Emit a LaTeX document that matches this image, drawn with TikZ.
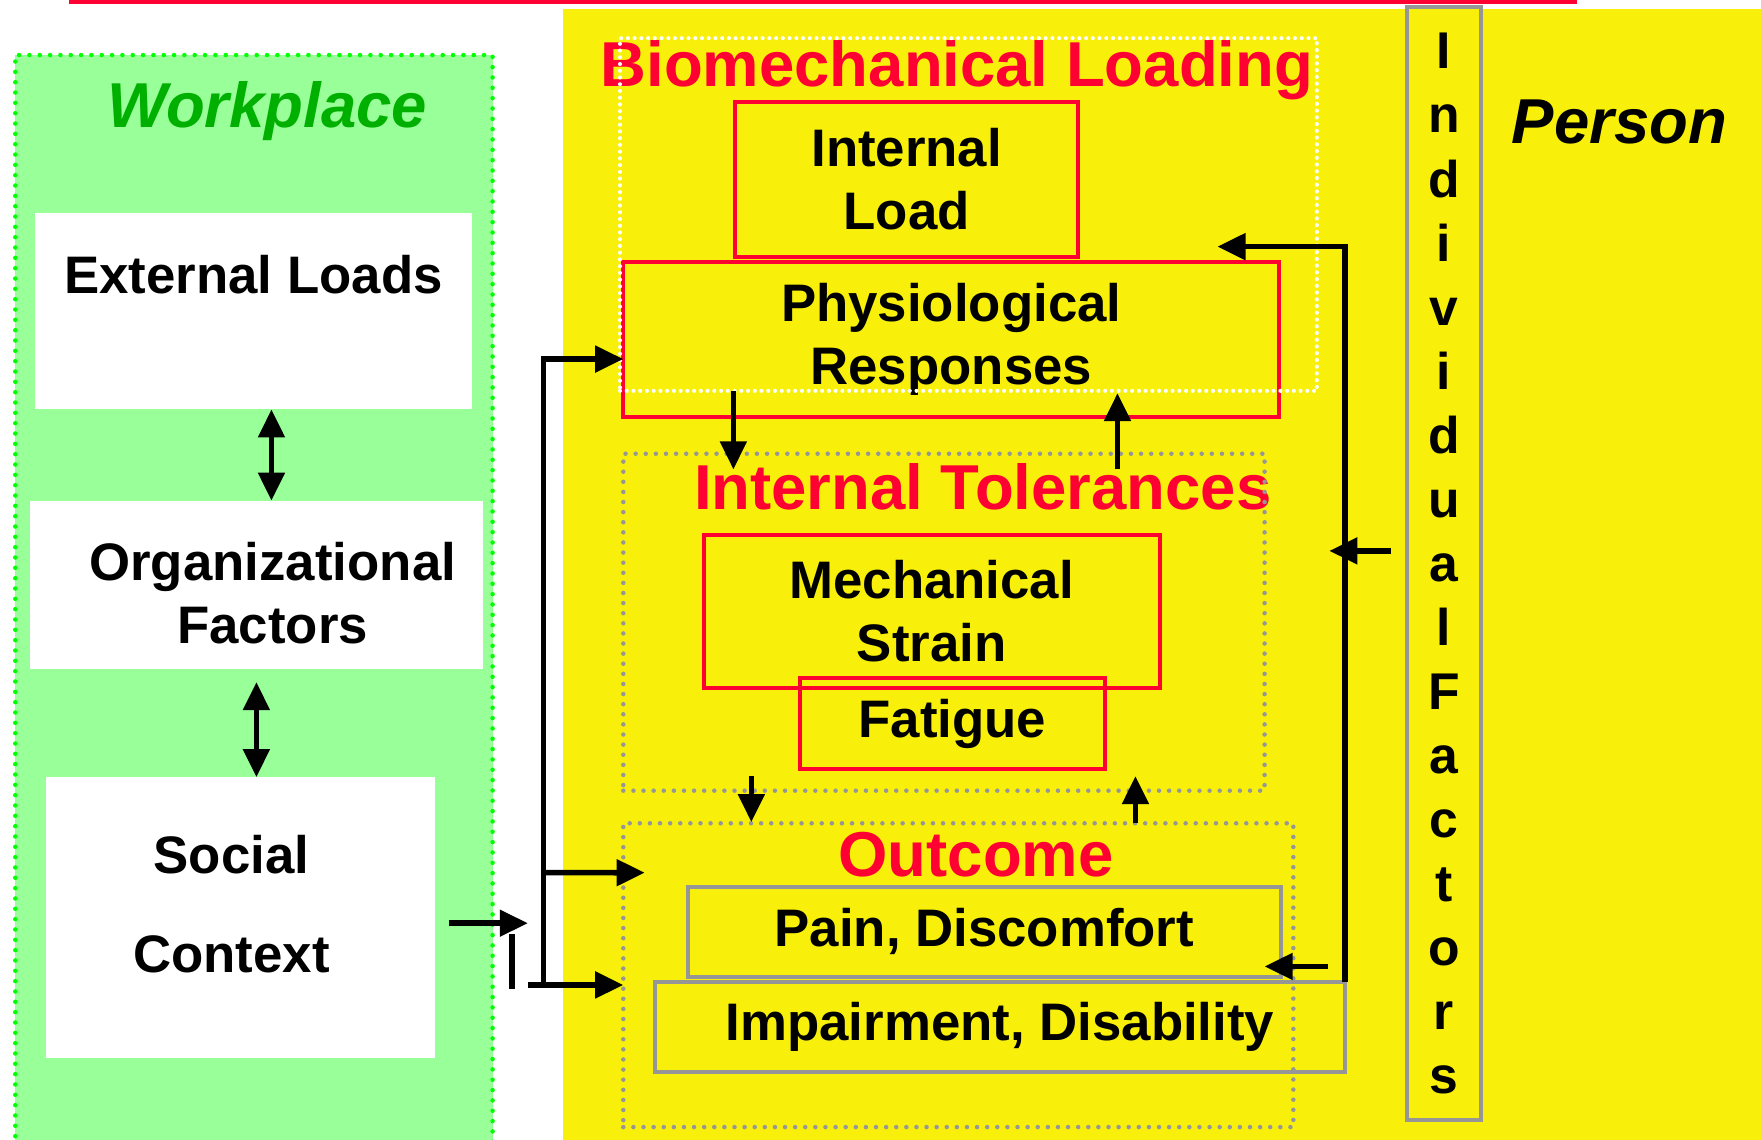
\documentclass[tikz,border=0pt]{standalone}
\usepackage{fontspec}
\setmainfont{Liberation Sans}
\usetikzlibrary{arrows.meta,calc}

\definecolor{bred}{RGB}{255,0,51}
\definecolor{byel}{RGB}{248,240,10}
\definecolor{bgrn}{RGB}{153,255,153}
\definecolor{dgrn}{RGB}{0,255,0}
\definecolor{wgrn}{RGB}{0,176,0}
\definecolor{bgray}{RGB}{150,150,150}

\newcommand{\boxfont}{\fontsize{47}{56}\selectfont\bfseries}
\newcommand{\ttlfont}{\fontsize{56.5}{66}\selectfont\bfseries}
\newcommand{\letfont}{\fontsize{46}{57}\selectfont\bfseries}

\begin{document}
\begin{tikzpicture}[x=1pt,y=-1pt]
	\tikzstyle{wbox}=[rectangle, fill=white, inner sep=0pt, outer sep=0pt, font=\boxfont]
	\tikzstyle{wtxt}=[inner sep=0pt, align=center, font=\boxfont]
	\tikzstyle{rbox}=[rectangle, draw=bred, line width=3.5pt, inner sep=0pt, outer sep=0pt, align=center, font=\boxfont]
	\tikzstyle{gbox}=[rectangle, draw=bgray, line width=3.5pt, inner sep=0pt, outer sep=0pt, align=center, font=\boxfont]
	\tikzstyle{grp}=[rectangle, line width=4pt, line cap=round, dash pattern=on 0pt off 9pt, inner sep=0pt, outer sep=0pt]
	\tikzstyle{ttl}=[anchor=base, inner sep=0pt, font=\ttlfont, text=bred]
	\tikzstyle{arr}=[line width=5pt, -{Triangle[length=25pt,width=23pt]}]
	\tikzstyle{dbl}=[line width=5pt, {Triangle[length=25pt,width=23pt]}-{Triangle[length=25pt,width=23pt]}]

	\useasboundingbox (0,0) rectangle (1568,1015);

	% backgrounds
	\fill[byel] (501,8.3) rectangle (1568,1015);
	\fill[bgrn] (13.6,49) rectangle (438.6,1030);
	\draw[dgrn, line width=4pt, line cap=round, dash pattern=on 0pt off 9.2pt]
		(13.6,1030) -- (13.6,49) -- (438.6,49) -- (438.6,1030);
	\draw[bred, line width=3.2pt] (61.3,1.6) -- (1404,1.6);

	% workplace
	\node[ttl, text=wgrn, font=\ttlfont\itshape] (wp) at (238,113.4) {Workplace};
	\node[wbox, minimum width=389pt, minimum height=175pt, text depth=66pt] (ext) at (225.7,277) {External Loads};
	\node[wbox, minimum width=403pt, minimum height=150pt] (org) at (228.3,520.8) {};
	\node[wtxt] (orgt) at ($(org)+(14.5,7)$) {Organizational\\Factors};
	\node[wbox, minimum width=346pt, minimum height=250pt] (soc) at (214,817) {};
	\node[wtxt] (soct) at ($(soc)+(-8,-12)$) {Social\\[31.5pt]Context};

	% person
	\node[ttl] (bio) at (852,76.6) {Biomechanical Loading};
	\node[rbox, minimum width=305.5pt, minimum height=137.5pt] (intl) at (807.3,159.8) {Internal\\Load};
	\node[rbox, minimum width=584pt, minimum height=138pt] (phys) at (847,302) {Physiological\\Responses};

	\node[ttl] (tol) at (875,453.6) {Internal Tolerances};
	\node[rbox, minimum width=406pt, minimum height=137pt] (mech) at (829.6,544.5) {Mechanical\\Strain};
	\node[rbox, minimum width=272pt, minimum height=81pt] (fat) at (848,644.4) {Fatigue};

	\node[ttl] (out) at (869,780.7) {Outcome};
	\node[gbox, minimum width=528pt, minimum height=79.5pt] (pain) at (876.4,829.8) {Pain, Discomfort};
	\node[gbox, minimum width=614.4pt, minimum height=80pt] (imp) at (890.4,914.7) {Impairment, Disability};

	\node[gbox, font=\letfont, minimum width=66pt, minimum height=991pt] (ind) at (1285.6,501.8)
		{I\\n\\d\\i\\v\\i\\d\\u\\a\\l\\F\\a\\c\\t\\o\\r\\s};
	\node[ttl, text=black, font=\ttlfont\itshape] (pers) at (1442,127.6) {Person};

	% dotted groups
	\node[grp, draw=white, line width=3.6pt, dash pattern=on 0pt off 6pt, minimum width=620.5pt, minimum height=314pt] (gbio) at (862.3,191) {};
	\node[grp, draw=bgray, minimum width=571pt, minimum height=300pt] (gtol) at (840.5,554) {};
	\node[grp, draw=bgray, minimum width=596.6pt, minimum height=270.5pt] (gout) at (853.3,868.3) {};

	% arrows
	\draw[dbl] ($(ext.south)+(16,0)$) -- ($(ext.south |- org.north)+(16,0)$);
	\draw[dbl, shorten <=11.5pt] (org.south) -- (org.south |- soc.north);

	\coordinate (tee) at (470,822);
	\coordinate (trk) at (484,877);
	\draw[arr] ($(soc.east)+(12.5,5)$) -- (tee);
	\draw[line width=5pt] ($(tee)+(-14,10)$) -- ++(0,49);
	\draw[arr] (trk) |- ($(phys.west)+(0,17.7)$);
	\draw[arr] ($(trk)+(-14,0)$) -- (gout.west |- trk);
	\draw[arr] ($(trk)+(0,-100)$) -- ($(gout.north west)+(19,44)$);

	\draw[arr] ($(gbio.south)+(-209.3,0)$) -- ($(gtol.north)+(-187.5,14)$);
	\draw[arr] ($(gtol.north)+(154.5,14)$) -- ($(gbio.south)+(132.7,2)$);
	\draw[arr] ($(gtol.south)+(-171.5,-13)$) -- ($(gout.north)+(-184.3,-1)$);
	\draw[arr] ($(gout.north)+(157.7,0)$) -- ($(gtol.south)+(170.5,-13)$);

	\draw[arr] (imp.north east) |- ($(phys.north east)+(-55,-13.4)$);
	\draw[arr] ($(ind.west)+(-14,-11.3)$) -- ++(-55,0);
	\draw[arr] ($(pain.east)+(41.6,30.7)$) -- ($(pain.east)+(-14.4,30.7)$);
\end{tikzpicture}
\end{document}
